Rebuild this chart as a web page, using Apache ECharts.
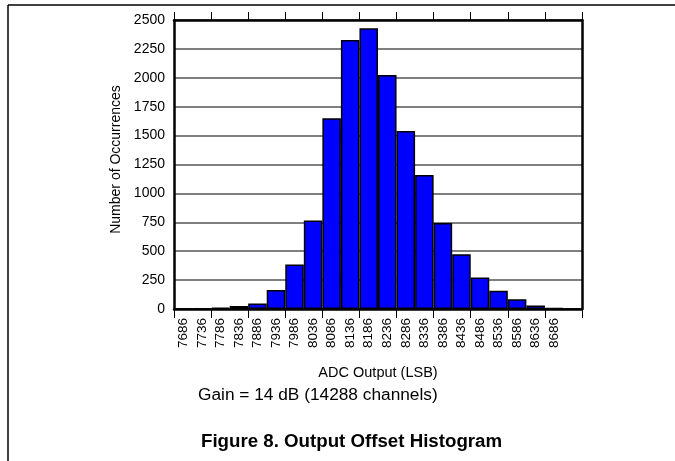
<!DOCTYPE html>
<html>
<head>
<meta charset="utf-8">
<title>Output Offset Histogram</title>
<script src="https://cdn.jsdelivr.net/npm/echarts@6/dist/echarts.min.js"></script>
<style>
  html, body { margin: 0; padding: 0; background: #fff; }
  #chart { width: 675px; height: 461px; }
</style>
</head>
<body>
<div id="chart"></div>
<script>
// bins of the ADC output (LSB); the last slot is empty
var binLabels = ['7686', '7736', '7786', '7836', '7886', '7936', '7986', '8036', '8086', '8136',
  '8186', '8236', '8286', '8336', '8386', '8436', '8486', '8536', '8586', '8636', '8686', ''];
// number of occurrences per bin
var counts = [4, 5, 11, 26, 48, 165, 385, 765, 1650, 2328, 2428, 2025, 1540, 1160,
  745, 474, 272, 158, 84, 30, 8, 0];

var font = '"Liberation Sans", Arial, sans-serif';
var ink = '#000';

var chart = echarts.init(document.getElementById('chart'), null, { renderer: 'canvas' });
chart.setOption({
  animation: false,
  textStyle: { fontFamily: font },
  grid: { left: 174, top: 20, width: 408, height: 289, containLabel: false },
  xAxis: [{
    type: 'category',
    data: binLabels,
    position: 'bottom',
    name: 'ADC Output (LSB)',
    nameLocation: 'middle',
    nameGap: 56,
    nameTextStyle: { color: ink, fontSize: 14.5, fontFamily: font },
    axisLine: { onZero: false, lineStyle: { color: ink, width: 2.5 } },
    axisTick: {
      show: true,
      interval: function(i) { return i % 2 === 0; },
      length: 9,
      lineStyle: { color: ink, width: 1 }
    },
    axisLabel: { interval: 0, rotate: 90, color: ink, fontSize: 13.5, fontFamily: font, margin: 9 },
    splitLine: { show: false }
  }, {
    // top frame: one tick every two bins
    type: 'value',
    position: 'top',
    min: 0,
    max: binLabels.length,
    interval: 2,
    axisLine: { show: true, onZero: false, lineStyle: { color: ink, width: 2.5 } },
    axisTick: { show: true, length: 8, lineStyle: { color: ink, width: 1 } },
    axisLabel: { show: false },
    splitLine: { show: false }
  }],
  yAxis: [{
    type: 'value',
    min: 0,
    max: 2500,
    interval: 250,
    position: 'left',
    name: 'Number of Occurrences',
    nameLocation: 'middle',
    nameGap: 41,
    nameTextStyle: { color: ink, fontSize: 14, fontFamily: font, padding: [0, 0, 0, 10] },
    axisLine: { show: true, onZero: false, lineStyle: { color: ink, width: 2.5 } },
    axisTick: { show: false },
    axisLabel: { color: ink, fontSize: 14, fontFamily: font, margin: 9, formatter: function(v) { return String(v); } },
    splitLine: { show: true, lineStyle: { color: '#555', width: 1.5 } }
  }, {
    type: 'value',
    min: 0,
    max: 2500,
    interval: 250,
    position: 'right',
    axisLine: { show: true, onZero: false, lineStyle: { color: ink, width: 2.5 } },
    axisTick: { show: false },
    axisLabel: { show: false },
    splitLine: { show: false }
  }],
  series: [{
    type: 'bar',
    xAxisIndex: 0,
    yAxisIndex: 0,
    data: counts,
    barCategoryGap: 0,
    itemStyle: { color: '#0000ff', borderColor: ink, borderWidth: 1.5 }
  }],
  graphic: [
    { type: 'line', shape: { x1: 8, y1: 5, x2: 675, y2: 5 }, style: { stroke: ink, lineWidth: 1.5 } },
    { type: 'line', shape: { x1: 8, y1: 5, x2: 8, y2: 461 }, style: { stroke: ink, lineWidth: 1.5 } },
    {
      type: 'text', left: 198, top: 387,
      style: { text: 'Gain = 14 dB (14288 channels)', fill: ink, font: '17.3px ' + font }
    },
    {
      type: 'text', left: 201, top: 432,
      style: { text: 'Figure 8. Output Offset Histogram', fill: ink, font: 'bold 18.7px ' + font }
    }
  ]
});
window.addEventListener('resize', function() { chart.resize(); });
</script>
</body>
</html>
